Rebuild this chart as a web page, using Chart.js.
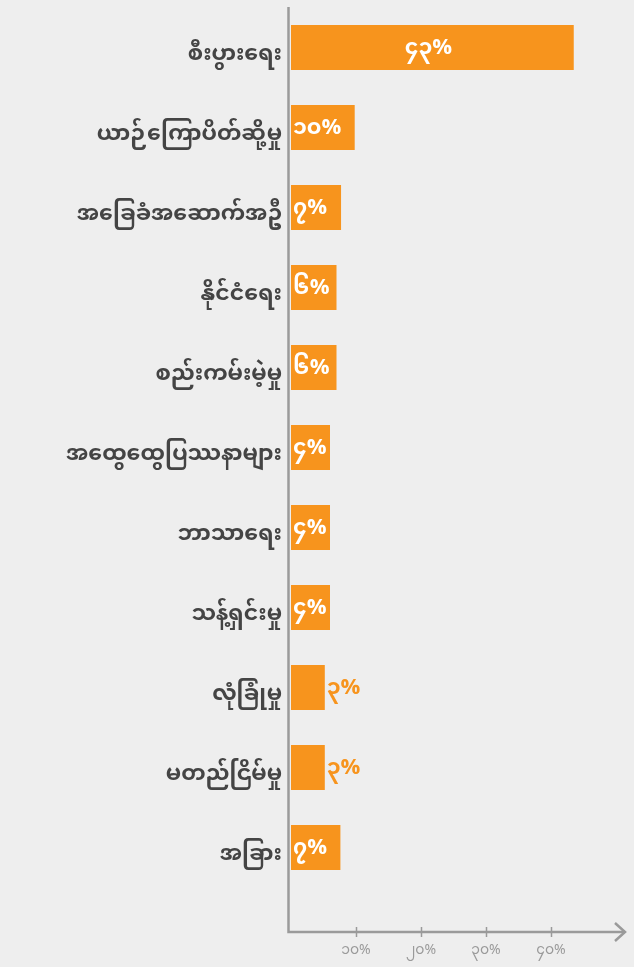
<!DOCTYPE html>
<html>
<head>
<meta charset="utf-8">
<script src="https://cdn.jsdelivr.net/npm/chart.js@4/dist/chart.umd.min.js"></script>
<style>
  html, body { margin: 0; padding: 0; background: #eeeeee; }
  #wrap { width: 634px; height: 967px; }
</style>
</head>
<body>
<div id="wrap"><canvas id="barChart" width="634" height="967"></canvas></div>
<script>
const categories = [
  'စီးပွားရေး',
  'ယာဉ်ကြောပိတ်ဆို့မှု',
  'အခြေခံအဆောက်အဦ',
  'နိုင်ငံရေး',
  'စည်းကမ်းမဲ့မှု',
  'အထွေထွေပြဿနာများ',
  'ဘာသာရေး',
  'သန့်ရှင်းမှု',
  'လုံခြုံမှု',
  'မတည်ငြိမ်မှု',
  'အခြား',
];
// printed share of each answer
const shares = [43, 10, 7, 6, 6, 4, 4, 4, 3, 3, 7];
// visible bar length read against the axis (short bars are drawn wider than their share)
const barLengths = [43.5, 9.8, 7.7, 7.0, 7.0, 6.0, 6.0, 6.0, 5.2, 5.2, 7.6];
const tickValues = [10, 20, 30, 40];

const myDigits = ['၀', '၁', '၂', '၃', '၄', '၅', '၆', '၇', '၈', '၉'];
const toMyanmar = (n) => String(n).split('').map((d) => myDigits[+d]).join('') + '%';

const ORANGE = '#f7941d';
const AXIS = '#9a9a9a';
const FONT = "'Noto Sans Myanmar', 'Padauk', 'Myanmar Text', 'Noto Sans', sans-serif";

const axisPlugin = {
  id: 'axisLines',
  afterDraw(chart) {
    const ctx = chart.ctx;
    const x = chart.scales.x;
    const left = 288.5;
    const axisY = 932;
    ctx.save();
    ctx.strokeStyle = AXIS;
    ctx.lineWidth = 2.5;
    ctx.beginPath();
    ctx.moveTo(left, 7);
    ctx.lineTo(left, axisY);
    ctx.lineTo(625, axisY);
    ctx.stroke();
    ctx.beginPath();
    ctx.moveTo(615, axisY - 9);
    ctx.lineTo(625, axisY);
    ctx.lineTo(615, axisY + 9);
    ctx.stroke();
    ctx.lineWidth = 1.5;
    tickValues.forEach((v) => {
      const px = Math.round(x.getPixelForValue(v)) + 0.5;
      ctx.beginPath();
      ctx.moveTo(px, axisY - 5);
      ctx.lineTo(px, axisY + 5);
      ctx.stroke();
    });
    ctx.restore();
  },
};

const labelPlugin = {
  id: 'valueLabels',
  afterDatasetsDraw(chart) {
    const ctx = chart.ctx;
    const meta = chart.getDatasetMeta(0);
    ctx.save();
    ctx.font = 'bold 22px ' + FONT;
    ctx.textBaseline = 'middle';
    meta.data.forEach((bar, i) => {
      const text = toMyanmar(shares[i]);
      const y = bar.y + 4;
      if (i === 0) {
        ctx.fillStyle = '#ffffff';
        ctx.textAlign = 'center';
        ctx.fillText(text, (bar.base + bar.x) / 2 - 4, y);
      } else if (shares[i] <= 3) {
        ctx.fillStyle = ORANGE;
        ctx.textAlign = 'left';
        ctx.fillText(text, bar.x + 2, y);
      } else {
        ctx.fillStyle = '#ffffff';
        ctx.textAlign = 'left';
        ctx.fillText(text, bar.base + 2, y);
      }
    });
    ctx.restore();
  },
};

new Chart(document.getElementById('barChart'), {
  type: 'bar',
  data: {
    labels: categories,
    datasets: [
      {
        data: barLengths,
        backgroundColor: ORANGE,
        borderWidth: 0,
        barPercentage: 0.5625,
        categoryPercentage: 1,
      },
    ],
  },
  options: {
    indexAxis: 'y',
    responsive: false,
    animation: false,
    layout: { padding: { top: 7.5, right: 18, left: 0, bottom: 0 } },
    scales: {
      x: {
        min: 0,
        max: 50,
        grid: { display: false, drawTicks: false },
        border: { display: false },
        afterFit: (scale) => {
          scale.height = 79.5;
          scale.paddingLeft = 0;
          scale.paddingRight = 0;
        },
        afterBuildTicks: (scale) => { scale.ticks = tickValues.map((v) => ({ value: v })); },
        ticks: {
          padding: 57,
          color: AXIS,
          font: { family: FONT, size: 14 },
          callback: (v) => toMyanmar(v),
        },
      },
      y: {
        grid: { display: false, drawTicks: false },
        border: { display: false },
        afterFit: (scale) => {
          scale.width = 291;
          scale.paddingTop = 0;
          scale.paddingBottom = 0;
        },
        ticks: {
          padding: 9,
          labelOffset: 10,
          color: '#444444',
          font: { family: FONT, size: 22, weight: 'bold' },
        },
      },
    },
    plugins: {
      legend: { display: false },
      tooltip: { enabled: false },
    },
  },
  plugins: [axisPlugin, labelPlugin],
});
</script>
</body>
</html>
